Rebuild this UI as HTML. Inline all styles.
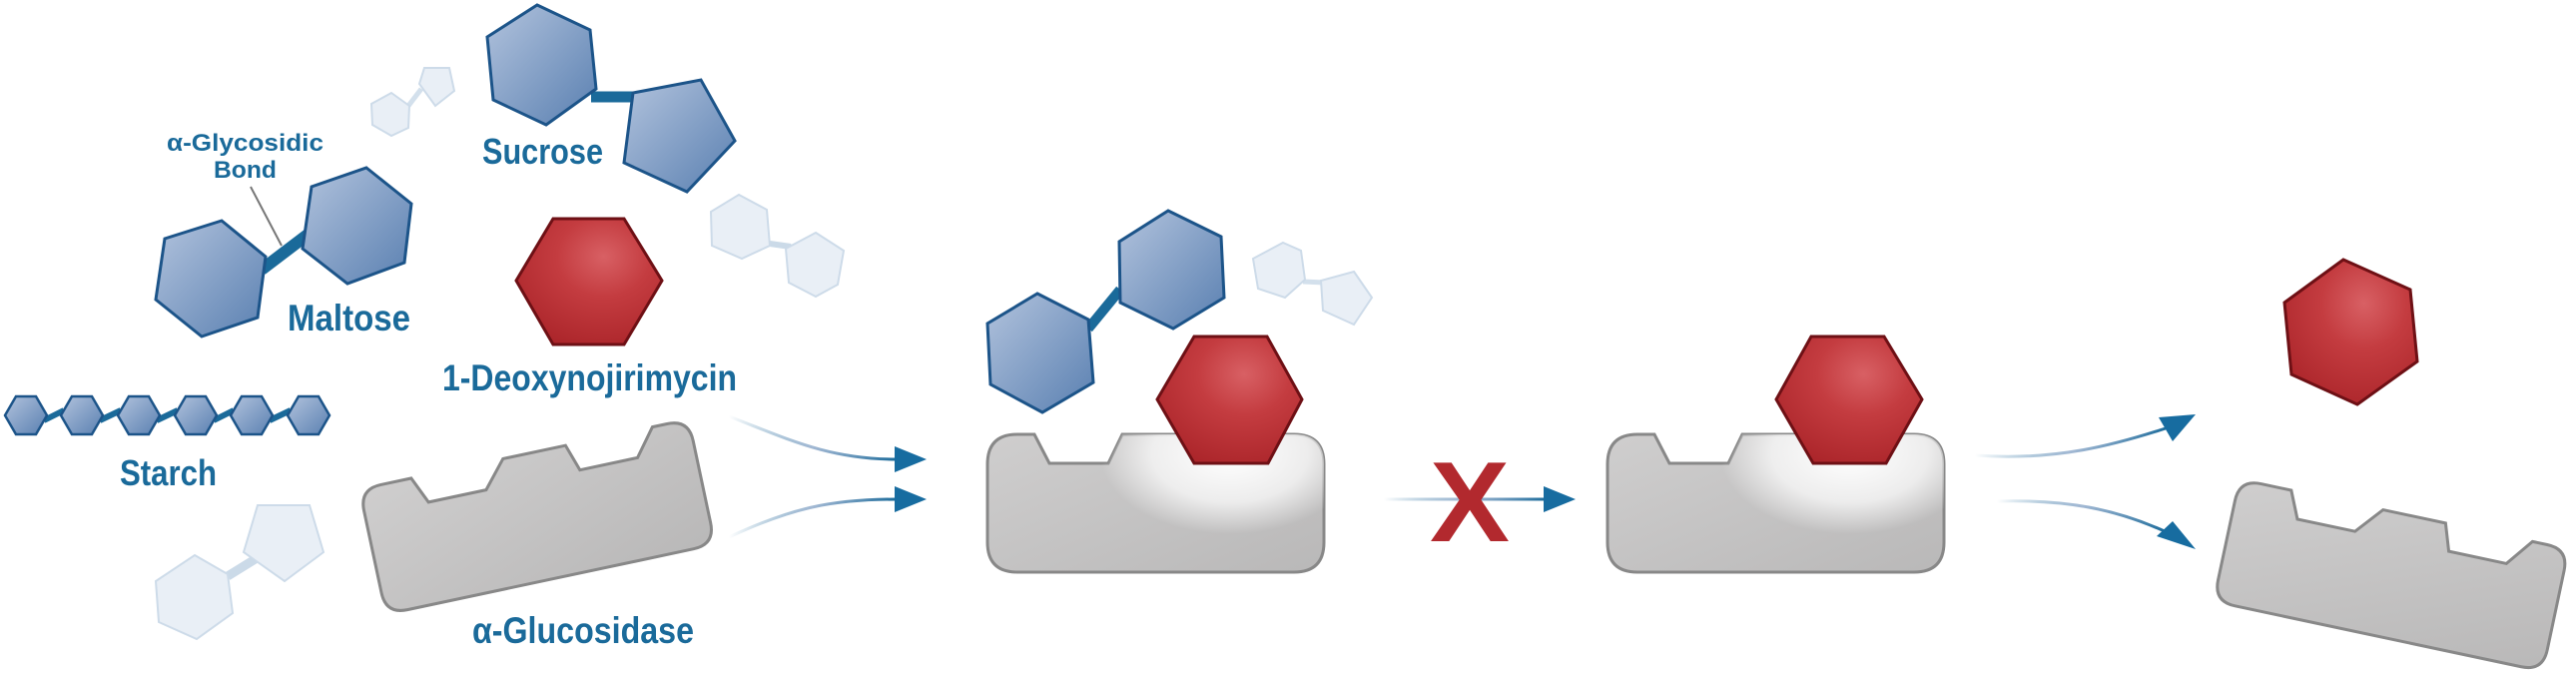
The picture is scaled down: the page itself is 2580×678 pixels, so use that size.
<!DOCTYPE html>
<html><head><meta charset="utf-8"><style>
html,body{margin:0;padding:0;background:#fff;}
svg{display:block;}
text{font-family:"Liberation Sans",sans-serif;font-weight:bold;fill:#1a6a9a;}
</style></head><body>
<svg width="2580" height="678" viewBox="0 0 2580 678" xmlns="http://www.w3.org/2000/svg">
<defs>
<linearGradient id="bl" x1="0" y1="0" x2="1" y2="1"><stop offset="0" stop-color="#b2c3dd"/><stop offset="1" stop-color="#5a80b1"/></linearGradient>
<radialGradient id="rd" cx="0.6" cy="0.3" r="0.8"><stop offset="0" stop-color="#d86064"/><stop offset="0.4" stop-color="#c43c40"/><stop offset="1" stop-color="#a92328"/></radialGradient>
<linearGradient id="gr" x1="0" y1="0" x2="1" y2="1"><stop offset="0" stop-color="#cfcece"/><stop offset="1" stop-color="#b9b8b8"/></linearGradient>
<radialGradient id="glow" cx="0.5" cy="0.5" r="0.5"><stop offset="0" stop-color="#fff" stop-opacity="1"/><stop offset="0.6" stop-color="#fff" stop-opacity="0.7"/><stop offset="1" stop-color="#fff" stop-opacity="0"/></radialGradient>
<linearGradient id="ar1" x1="0" y1="0" x2="1" y2="0"><stop offset="0" stop-color="#1a6a9a" stop-opacity="0"/><stop offset="0.5" stop-color="#8aa6c8" stop-opacity="0.8"/><stop offset="1" stop-color="#1a6a9a"/></linearGradient>
<linearGradient id="ar2" gradientUnits="userSpaceOnUse" x1="1386" y1="0" x2="1550" y2="0"><stop offset="0" stop-color="#1a6a9a" stop-opacity="0"/><stop offset="0.5" stop-color="#8aa6c8" stop-opacity="0.8"/><stop offset="1" stop-color="#1a6a9a"/></linearGradient>
<clipPath id="c1"><path d="M30 0 L47 0 L62 29 L121 29 L135 0 L307 0 Q337 0 337 30 L337 108 Q337 138 307 138 L30 138 Q0 138 0 108 L0 30 Q0 0 30 0Z"/></clipPath>
</defs>

<!-- light molecules -->
<g fill="#e9eff6" stroke="#cddbe9" stroke-width="2">
<line x1="409" y1="106" x2="422" y2="89" stroke="#d3e0ec" stroke-width="5"/>
<polygon points="392,93 410,106 409,128 392,136 373,125 372,104"/>
<polygon points="425,68 450,68 455,91 436,106 420,84"/>
<line x1="771" y1="244" x2="792" y2="247" stroke="#cbdae8" stroke-width="6"/>
<polygon points="740,195 768,210 771,246 743,259 713,246 712,212"/>
<polygon points="817,233 845,251 839,285 817,297 790,283 787,249"/>
<line x1="228" y1="577" x2="262" y2="556" stroke="#cbdae8" stroke-width="9"/>
<polygon points="195,556 228,575 233,614 197,640 159,623 156,582"/>
<polygon points="258,506 310,506 324,553 285,582 244,553"/>
<line x1="1305" y1="282" x2="1327" y2="283" stroke="#d3e0ec" stroke-width="5"/>
<polygon points="1285,243 1303,251 1307,280 1287,298 1260,289 1255,259"/>
<polygon points="1356,272 1374,298 1356,325 1325,311 1323,281"/>
</g>

<!-- sucrose -->
<line x1="592" y1="97" x2="636" y2="97" stroke="#1a6a9a" stroke-width="11"/>
<polygon points="538,5 591,30 597,89 547,125 494,100 488,37" fill="url(#bl)" stroke="#1c5489" stroke-width="3"/>
<polygon points="634,93 702,80 736,141 688,192 625,163" fill="url(#bl)" stroke="#1c5489" stroke-width="3"/>
<text x="483" y="164" font-size="36" textLength="121" lengthAdjust="spacingAndGlyphs">Sucrose</text>

<!-- maltose -->
<line x1="251" y1="187" x2="282" y2="246" stroke="#777" stroke-width="2"/>
<line x1="262" y1="270" x2="308" y2="235" stroke="#1a6a9a" stroke-width="12"/>
<polygon points="222,221 266,257 258,318 202,337 156,300 165,239" fill="url(#bl)" stroke="#1c5489" stroke-width="3"/>
<polygon points="367,168 412,204 405,263 348,284 303,249 312,187" fill="url(#bl)" stroke="#1c5489" stroke-width="3"/>
<text x="167" y="151" font-size="24" textLength="157" lengthAdjust="spacingAndGlyphs">α-Glycosidic</text>
<text x="214" y="178" font-size="24" textLength="63" lengthAdjust="spacingAndGlyphs">Bond</text>
<text x="288" y="331" font-size="37" textLength="123" lengthAdjust="spacingAndGlyphs">Maltose</text>

<!-- DNJ -->
<polygon points="554,219 625,219 663,281 625,345 554,345 517,281" fill="url(#rd)" stroke="#6e1015" stroke-width="3"/>
<text x="443" y="391" font-size="37" textLength="295" lengthAdjust="spacingAndGlyphs">1-Deoxynojirimycin</text>

<!-- starch -->
<g stroke="#1a6a9a" stroke-width="6">
<line x1="44" y1="421" x2="64" y2="411"/><line x1="100" y1="421" x2="121" y2="411"/><line x1="157" y1="421" x2="178" y2="411"/><line x1="214" y1="421" x2="234" y2="411"/><line x1="270" y1="421" x2="291" y2="411"/>
</g>
<g fill="url(#bl)" stroke="#1c5489" stroke-width="2.5">
<polygon points="5,416 16,397 36,397 47,416 36,435 16,435"/>
<polygon points="61,416 72,397 92,397 103,416 92,435 72,435"/>
<polygon points="118,416 129,397 149,397 160,416 149,435 129,435"/>
<polygon points="175,416 186,397 206,397 217,416 206,435 186,435"/>
<polygon points="231,416 242,397 262,397 273,416 262,435 242,435"/>
<polygon points="288,416 299,397 319,397 330,416 319,435 299,435"/>
</g>
<text x="120" y="486" font-size="36" textLength="97" lengthAdjust="spacingAndGlyphs">Starch</text>

<!-- enzyme 1 -->
<g transform="translate(360,490) rotate(-12)">
<path d="M22 0 L53 0 L65 27 L124 27 L147 0 L211 0 L220 27 L279 27 L300 0 L315 0 Q337 0 337 22 L337 106 Q337 128 315 128 L22 128 Q0 128 0 106 L0 22 Q0 0 22 0Z" fill="url(#gr)" stroke="#888" stroke-width="3"/>
</g>
<text x="473" y="644" font-size="37" textLength="222" lengthAdjust="spacingAndGlyphs">α-Glucosidase</text>

<!-- left arrows -->
<path d="M730 417 C 790 440, 830 460, 898 460" fill="none" stroke="url(#ar1)" stroke-width="3"/>
<polygon points="896,447 928,460 896,473" fill="#176ca0"/>
<path d="M730 538 C 790 510, 830 500, 898 500" fill="none" stroke="url(#ar1)" stroke-width="3"/>
<polygon points="896,487 928,500 896,513" fill="#176ca0"/>

<!-- center enzyme 1 -->
<g transform="translate(989,435)">
<path d="M30 0 L47 0 L62 29 L121 29 L135 0 L307 0 Q337 0 337 30 L337 108 Q337 138 307 138 L30 138 Q0 138 0 108 L0 30 Q0 0 30 0Z" fill="url(#gr)" stroke="#888" stroke-width="3"/>
<ellipse cx="243" cy="20" rx="130" ry="80" fill="url(#glow)" clip-path="url(#c1)"/>
</g>
<line x1="1090" y1="329" x2="1122" y2="290" stroke="#1a6a9a" stroke-width="10"/>
<polygon points="1039,294 1090,320 1095,383 1044,413 992,385 989,324" fill="url(#bl)" stroke="#1c5489" stroke-width="3"/>
<polygon points="1170,211 1223,237 1226,298 1175,329 1122,303 1121,242" fill="url(#bl)" stroke="#1c5489" stroke-width="3"/>
<polygon points="1196,337 1269,337 1304,400 1270,464 1196,464 1159,400" fill="url(#rd)" stroke="#6e1015" stroke-width="3"/>

<!-- middle arrow with X -->
<line x1="1386" y1="500" x2="1550" y2="500" stroke="url(#ar2)" stroke-width="3"/>
<polygon points="1546,487 1578,500 1546,513" fill="#176ca0"/>
<text x="1432" y="542" font-size="114" style="fill:#b2292e" textLength="80" lengthAdjust="spacingAndGlyphs">X</text>

<!-- center enzyme 2 -->
<g transform="translate(1610,435)">
<path d="M30 0 L47 0 L62 29 L121 29 L135 0 L307 0 Q337 0 337 30 L337 108 Q337 138 307 138 L30 138 Q0 138 0 108 L0 30 Q0 0 30 0Z" fill="url(#gr)" stroke="#888" stroke-width="3"/>
<ellipse cx="243" cy="20" rx="130" ry="80" fill="url(#glow)" clip-path="url(#c1)"/>
</g>
<polygon points="1814,337 1887,337 1925,400 1889,464 1816,464 1779,400" fill="url(#rd)" stroke="#6e1015" stroke-width="3"/>

<!-- right arrows -->
<path d="M1978 456 C 2060 462, 2120 445, 2172 428" fill="none" stroke="url(#ar1)" stroke-width="3"/>
<polygon points="2162,418 2199,415 2176,442" fill="#176ca0"/>
<path d="M2000 502 C 2070 500, 2120 510, 2170 533" fill="none" stroke="url(#ar1)" stroke-width="3"/>
<polygon points="2160,537 2199,550 2176,522" fill="#176ca0"/>

<!-- final -->
<polygon points="2347,260 2414,290 2421,362 2361,405 2295,375 2288,303" fill="url(#rd)" stroke="#6e1015" stroke-width="3"/>
<g transform="translate(2243,480) rotate(12)">
<path d="M22 0 L53 0 L65 27 L124 27 L147 0 L211 0 L220 27 L279 27 L300 0 L315 0 Q337 0 337 22 L337 103 Q337 125 315 125 L22 125 Q0 125 0 103 L0 22 Q0 0 22 0Z" fill="url(#gr)" stroke="#888" stroke-width="3"/>
</g>
</svg>
</body></html>
